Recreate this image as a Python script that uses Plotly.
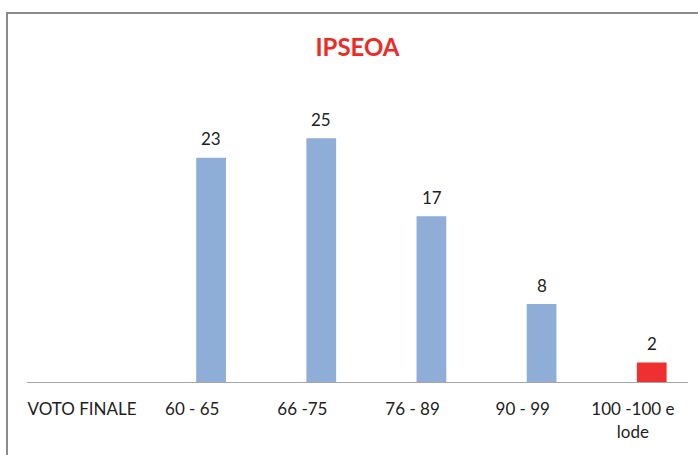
import plotly.graph_objects as go

categories = ["VOTO FINALE", "60 - 65", "66 -75", "76 - 89", "90 - 99", "100 -100 e<br>lode"]
values = [None, 23, 25, 17, 8, 2]
bar_colors = ["#8EAED8", "#8EAED8", "#8EAED8", "#8EAED8", "#8EAED8", "#EE3030"]
title_text = "IPSEOA"

W, H = 698, 455
ml, mr, mt, mb = 27, 10, 109, 73
FONT = "Lato, 'Open Sans', sans-serif"

fig = go.Figure()
fig.add_trace(go.Bar(
    x=categories, y=values,
    marker=dict(color=bar_colors, line=dict(width=0)),
    width=0.27, offset=0.036,
    hoverinfo="skip",
))

annotations = []
for c, v in zip(categories, values):
    if v is None:
        continue
    annotations.append(dict(
        x=c, y=v, xref="x", yref="y", text=str(v), showarrow=False,
        xanchor="center", yanchor="middle", xshift=19, yshift=19,
        font=dict(family=FONT, size=17, color="#222222"),
    ))

plot_w = W - ml - mr
fig.update_layout(
    width=W, height=H,
    margin=dict(l=ml, r=mr, t=mt, b=mb, pad=0),
    paper_bgcolor="white", plot_bgcolor="white",
    showlegend=False,
    title=dict(
        text="<b>" + title_text + "</b>",
        x=0.5, xref="paper", xanchor="center",
        y=1 - 48 / H, yref="container", yanchor="middle",
        font=dict(family=FONT, size=24, color="#EE2A24"),
    ),
    xaxis=dict(
        type="category", range=[-0.5, 5.5],
        showline=True, linecolor="#A6A6A6", linewidth=1,
        showgrid=False, zeroline=False, ticks="",
        tickfont=dict(family=FONT, size=17, color="#222222"),
        ticklabelstandoff=12,
        fixedrange=True,
    ),
    yaxis=dict(
        range=[0, 28], visible=False, showgrid=False, zeroline=False,
        fixedrange=True,
    ),
    annotations=annotations,
    shapes=[dict(
        type="rect", xref="paper", yref="paper",
        x0=(7 - ml) / plot_w, x1=(W + 20 - ml) / plot_w,
        y0=-(H + 20 - (H - mb)) / (H - mt - mb), y1=1 + (mt - 13) / (H - mt - mb),
        line=dict(color="#8C8C8C", width=2), fillcolor="rgba(0,0,0,0)",
        layer="above",
    )],
)

fig.write_html(
    "out.html",
    config={"displayModeBar": False},
    post_script="document.body.style.margin='0';document.body.style.overflow='hidden';",
)
